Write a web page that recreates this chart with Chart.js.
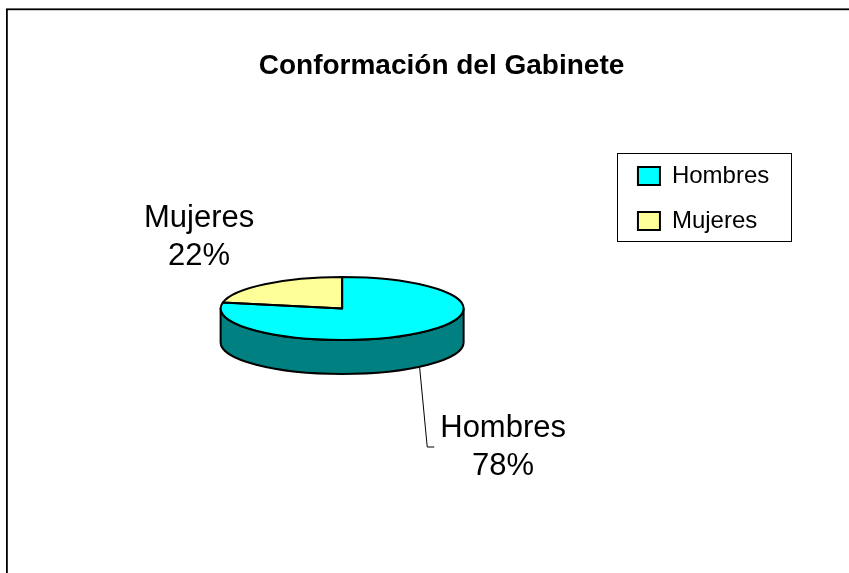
<!DOCTYPE html>
<html>
<head>
<meta charset="utf-8">
<script src="https://cdn.jsdelivr.net/npm/chart.js@4.4.1/dist/chart.umd.min.js"></script>
<style>
  html, body { margin: 0; padding: 0; background: #ffffff; }
  canvas { display: block; }
</style>
</head>
<body>
<canvas id="c" width="849" height="573"></canvas>
<script>
// ---- data ----
const chartTitle = 'Conformación del Gabinete';
const categories = ['Hombres', 'Mujeres'];
const values = [78, 22];

// ---- styles ----
const FONT = "'Liberation Sans', Arial, Helvetica, sans-serif";
const topColors = ['#00FFFF', '#FFFF99'];
const sideColors = ['#008080', '#808050'];
const TILT = 0.259;      // vertical squash of the pie (3D view)
const DEPTH = 34;        // thickness of the pie
const OUTLINE = 2;
const LABEL_FONT = 31;
const LABEL_LINE = 37.5;
const labelPlacement = [
  { dx: 161, dy: 128.5, leader: true },
  { dx: -143, dy: -81.5, leader: false }
];
const TITLE_SHIFT = 18.2;

Chart.defaults.font.family = FONT;
Chart.defaults.color = '#000';

function frontSegments(s, e) {
  const out = [];
  const P = Math.PI;
  for (const [lo, hi] of [[-2 * P, -P], [0, P], [2 * P, 3 * P]]) {
    const a = Math.max(s, lo), b = Math.min(e, hi);
    if (b > a) out.push([a, b]);
  }
  return out;
}

const framePlugin = {
  id: 'frame',
  afterLayout(chart) {
    const t = chart.titleBlock;
    if (t) { t.left += TITLE_SHIFT; t.right += TITLE_SHIFT; }
  },
  beforeDraw(chart) {
    const ctx = chart.ctx;
    ctx.save();
    ctx.fillStyle = '#fff';
    ctx.fillRect(0, 0, chart.width, chart.height);
    ctx.strokeStyle = '#000';
    ctx.lineWidth = 1.8;
    ctx.strokeRect(6.9, 9.3, chart.width + 50, chart.height + 50);
    ctx.restore();
  },
  afterDraw(chart) {
    const lg = chart.legend;
    const hb = lg.legendHitBoxes;
    if (!hb || !hb.length) return;
    const ctx = chart.ctx;
    const y0 = hb[0].top - 11;
    const last = hb[hb.length - 1];
    const y1 = last.top + last.height + 8;
    ctx.save();
    ctx.strokeStyle = '#000';
    ctx.lineWidth = 1;
    ctx.strokeRect(Math.round(lg.left) + 0.5, Math.round(y0) + 0.5, 174, Math.round(y1 - y0));
    ctx.restore();
  }
};

const pie3d = {
  id: 'pie3d',
  beforeDatasetsDraw(chart) {
    const ctx = chart.ctx;
    const arcs = chart.getDatasetMeta(0).data;
    const cx = arcs[0].x, cy = arcs[0].y, r = arcs[0].outerRadius;
    const ry = r * TILT;
    ctx.save();
    arcs.forEach((arc, i) => {
      frontSegments(arc.startAngle, arc.endAngle).forEach(([a, b]) => {
        ctx.beginPath();
        ctx.ellipse(cx, cy, r, ry, 0, a, b, false);
        ctx.lineTo(cx + r * Math.cos(b), cy + ry * Math.sin(b) + DEPTH);
        ctx.ellipse(cx, cy + DEPTH, r, ry, 0, b, a, true);
        ctx.closePath();
        ctx.fillStyle = sideColors[i];
        ctx.fill();
        ctx.lineWidth = OUTLINE;
        ctx.lineJoin = 'round';
        ctx.strokeStyle = '#000';
        ctx.stroke();
      });
    });
    ctx.restore();
    ctx.save();
    ctx.translate(cx, cy);
    ctx.scale(1, TILT);
    ctx.translate(-cx, -cy);
  },
  afterDatasetsDraw(chart) {
    const ctx = chart.ctx;
    ctx.restore();
    const arcs = chart.getDatasetMeta(0).data;
    const cx = arcs[0].x, cy = arcs[0].y, r = arcs[0].outerRadius;
    const ry = r * TILT;
    ctx.save();
    ctx.strokeStyle = '#000';
    ctx.lineWidth = OUTLINE;
    ctx.lineJoin = 'round';
    arcs.forEach(arc => {
      ctx.beginPath();
      ctx.moveTo(cx, cy);
      ctx.ellipse(cx, cy, r, ry, 0, arc.startAngle, arc.endAngle, false);
      ctx.closePath();
      ctx.stroke();
    });
    // data labels
    const total = values.reduce((a, b) => a + b, 0);
    ctx.font = LABEL_FONT + 'px ' + FONT;
    ctx.textAlign = 'center';
    ctx.textBaseline = 'alphabetic';
    ctx.fillStyle = '#000';
    arcs.forEach((arc, i) => {
      const p = labelPlacement[i];
      const tx = cx + p.dx, ty = cy + p.dy;
      const pct = Math.round(values[i] / total * 100) + '%';
      ctx.fillText(categories[i], tx, ty);
      ctx.fillText(pct, tx, ty + LABEL_LINE);
      if (p.leader) {
        const mid = (arc.startAngle + arc.endAngle) / 2;
        const sx = cx + r * Math.cos(mid);
        const sy = cy + ry * Math.sin(mid) + DEPTH;
        const w = Math.max(ctx.measureText(categories[i]).width, ctx.measureText(pct).width);
        const ex = tx - w / 2 - 6;
        const ly = ty + 10;
        ctx.beginPath();
        ctx.moveTo(sx, sy);
        ctx.lineTo(ex - 7, ly);
        ctx.lineTo(ex, ly);
        ctx.lineWidth = 1;
        ctx.strokeStyle = '#000';
        ctx.stroke();
      }
    });
    ctx.restore();
  }
};

const defaultLabels = Chart.overrides.doughnut.plugins.legend.labels.generateLabels;

new Chart(document.getElementById('c'), {
  type: 'pie',
  data: {
    labels: categories,
    datasets: [{
      data: values,
      backgroundColor: topColors,
      borderWidth: 0,
      hoverOffset: 0
    }]
  },
  options: {
    responsive: false,
    animation: false,
    radius: 121.5,
    layout: { padding: { left: 67.3, right: 69.7, top: 0, bottom: 39.1 } },
    plugins: {
      tooltip: { enabled: false },
      title: {
        display: true,
        text: chartTitle,
        color: '#000',
        font: { size: 28, weight: 'bold', family: FONT },
        padding: { top: 49.5, bottom: 0 }
      },
      legend: {
        position: 'right',
        align: 'start',
        title: { display: true, text: '', font: { size: 10 }, padding: { top: 131, bottom: 0 } },
        labels: {
          font: { size: 24, family: FONT },
          color: '#000',
          boxWidth: 22,
          boxHeight: 18,
          padding: 21,
          generateLabels(chart) {
            return defaultLabels(chart).map(l => Object.assign(l, { lineWidth: 2, strokeStyle: '#000' }));
          }
        }
      }
    }
  },
  plugins: [framePlugin, pie3d]
});
</script>
</body>
</html>
